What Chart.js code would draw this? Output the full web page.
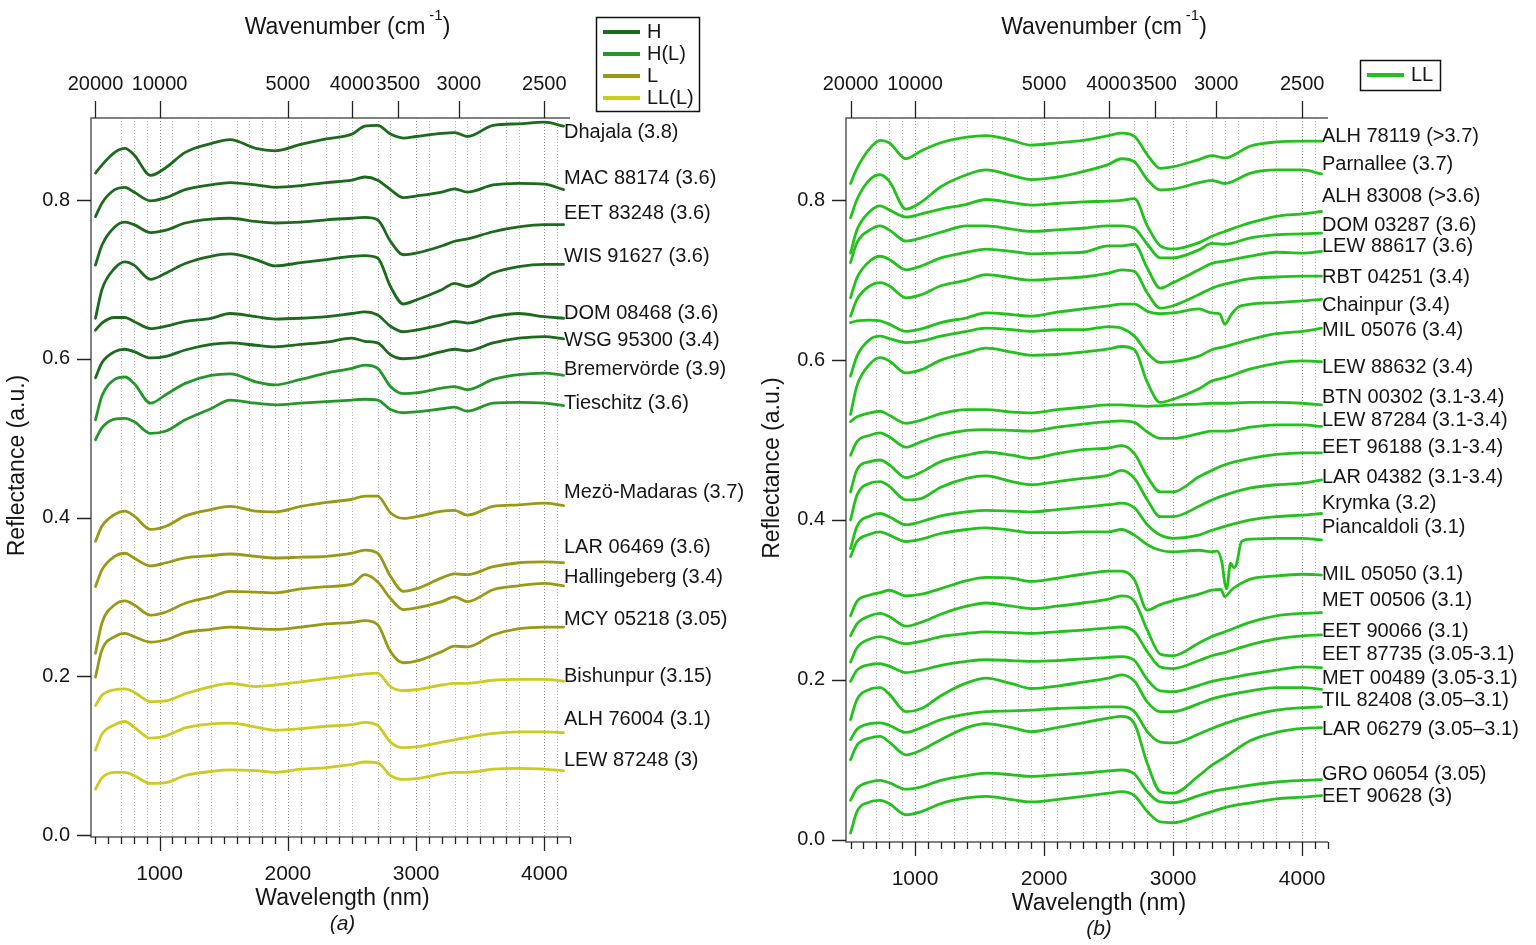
<!DOCTYPE html>
<html>
<head>
<meta charset="utf-8">
<title>Reflectance spectra</title>
<script src="https://cdn.jsdelivr.net/npm/chart.js@4.4.1/dist/chart.umd.min.js"></script>
<style>
  html, body { margin: 0; padding: 0; background: #fff; }
  #wrap { position: relative; width: 1536px; height: 945px; }
  #wrap canvas { position: absolute; left: 0; top: 0; }
</style>
</head>
<body>
<div id="wrap">
  <canvas id="panelA" width="1536" height="945"></canvas>
  <canvas id="panelB" width="1536" height="945"></canvas>
</div>
<script>
'use strict';

// wavelengths (nm) where every spectrum is sampled
const wavelength = [500, 550, 650, 730, 800, 930, 1050, 1200, 1400, 1550, 1750, 1900, 2100, 2300, 2500, 2600, 2700, 2800, 2900, 3000, 3200, 3300, 3400, 3600, 3800, 4000, 4150];

const wavelengthTicks = [1000, 2000, 3000, 4000];
const wavenumberTicks = [20000, 10000, 5000, 4000, 3500, 3000, 2500];
const reflectanceTicks = [0, 0.2, 0.4, 0.6, 0.8];
const gridWavelengths = [700, 800, 900, 1000, 1100, 1300, 1400, 1600, 1700, 1800, 1900, 2000, 2100, 2300, 2400, 2500, 2700, 2800, 3000, 3100, 3300, 3400, 3500, 3700, 3800, 4000, 4100];

// panel (a)
const dhajala = [0.834, 0.844, 0.860, 0.865, 0.857, 0.831, 0.841, 0.860, 0.871, 0.876, 0.865, 0.862, 0.870, 0.877, 0.883, 0.893, 0.894, 0.883, 0.878, 0.880, 0.884, 0.885, 0.880, 0.894, 0.896, 0.898, 0.893];
const mac88174 = [0.779, 0.796, 0.813, 0.816, 0.810, 0.799, 0.803, 0.813, 0.819, 0.822, 0.819, 0.816, 0.818, 0.822, 0.825, 0.829, 0.825, 0.813, 0.803, 0.805, 0.810, 0.814, 0.810, 0.819, 0.821, 0.820, 0.813];
const eet83248 = [0.718, 0.743, 0.766, 0.772, 0.769, 0.759, 0.762, 0.771, 0.776, 0.777, 0.773, 0.771, 0.772, 0.775, 0.777, 0.778, 0.775, 0.748, 0.731, 0.733, 0.742, 0.748, 0.751, 0.760, 0.766, 0.769, 0.769];
const wis91627 = [0.651, 0.687, 0.714, 0.722, 0.718, 0.700, 0.708, 0.720, 0.729, 0.732, 0.725, 0.717, 0.721, 0.725, 0.729, 0.730, 0.727, 0.691, 0.669, 0.674, 0.687, 0.695, 0.691, 0.708, 0.716, 0.719, 0.719];
const dom08468 = [0.636, 0.645, 0.652, 0.652, 0.647, 0.638, 0.641, 0.647, 0.651, 0.657, 0.653, 0.650, 0.651, 0.653, 0.657, 0.659, 0.655, 0.641, 0.634, 0.636, 0.643, 0.647, 0.645, 0.653, 0.657, 0.653, 0.651];
const wsg95300 = [0.576, 0.595, 0.609, 0.612, 0.609, 0.601, 0.603, 0.611, 0.618, 0.620, 0.617, 0.615, 0.618, 0.621, 0.626, 0.622, 0.620, 0.605, 0.600, 0.601, 0.609, 0.612, 0.610, 0.620, 0.626, 0.628, 0.625];
const bremervorde = [0.523, 0.553, 0.574, 0.577, 0.569, 0.544, 0.555, 0.569, 0.579, 0.581, 0.571, 0.567, 0.574, 0.582, 0.588, 0.592, 0.588, 0.565, 0.556, 0.557, 0.563, 0.565, 0.561, 0.574, 0.580, 0.582, 0.579];
const tieschitz = [0.498, 0.513, 0.524, 0.525, 0.521, 0.506, 0.509, 0.523, 0.537, 0.548, 0.544, 0.542, 0.544, 0.546, 0.548, 0.549, 0.548, 0.536, 0.532, 0.533, 0.537, 0.539, 0.534, 0.544, 0.545, 0.544, 0.541];
const mezoMadaras = [0.370, 0.389, 0.404, 0.408, 0.402, 0.385, 0.389, 0.402, 0.410, 0.414, 0.408, 0.407, 0.414, 0.419, 0.423, 0.427, 0.427, 0.406, 0.399, 0.401, 0.408, 0.409, 0.403, 0.414, 0.416, 0.418, 0.415];
const lar06469 = [0.313, 0.334, 0.351, 0.355, 0.349, 0.339, 0.343, 0.349, 0.352, 0.354, 0.351, 0.349, 0.350, 0.351, 0.355, 0.359, 0.355, 0.326, 0.307, 0.310, 0.324, 0.329, 0.328, 0.338, 0.343, 0.344, 0.343];
const hallingeberg = [0.229, 0.267, 0.290, 0.295, 0.290, 0.277, 0.281, 0.292, 0.300, 0.307, 0.306, 0.305, 0.310, 0.313, 0.316, 0.328, 0.319, 0.298, 0.284, 0.286, 0.294, 0.300, 0.294, 0.309, 0.314, 0.317, 0.314];
const mcy05218 = [0.199, 0.233, 0.250, 0.254, 0.250, 0.243, 0.246, 0.255, 0.259, 0.262, 0.260, 0.259, 0.262, 0.266, 0.268, 0.270, 0.265, 0.231, 0.217, 0.219, 0.231, 0.238, 0.237, 0.252, 0.260, 0.262, 0.262];
const bishunpur = [0.163, 0.176, 0.183, 0.184, 0.180, 0.168, 0.169, 0.178, 0.187, 0.191, 0.187, 0.189, 0.193, 0.197, 0.201, 0.203, 0.204, 0.187, 0.182, 0.183, 0.189, 0.191, 0.191, 0.195, 0.196, 0.196, 0.194];
const alh76004 = [0.107, 0.127, 0.139, 0.143, 0.136, 0.122, 0.125, 0.135, 0.140, 0.141, 0.136, 0.132, 0.134, 0.137, 0.139, 0.142, 0.138, 0.117, 0.110, 0.111, 0.117, 0.120, 0.123, 0.128, 0.130, 0.130, 0.129];
const lew87248 = [0.058, 0.072, 0.079, 0.079, 0.075, 0.065, 0.066, 0.075, 0.080, 0.082, 0.081, 0.079, 0.083, 0.085, 0.089, 0.092, 0.091, 0.075, 0.070, 0.071, 0.077, 0.079, 0.079, 0.083, 0.084, 0.083, 0.081];

const namesA = ['Dhajala (3.8)', 'MAC 88174 (3.6)', 'EET 83248 (3.6)', 'WIS 91627 (3.6)', 'DOM 08468 (3.6)', 'WSG 95300 (3.4)', 'Bremervörde (3.9)', 'Tieschitz (3.6)', 'Mezö-Madaras (3.7)', 'LAR 06469 (3.6)', 'Hallingeberg (3.4)', 'MCY 05218 (3.05)', 'Bishunpur (3.15)', 'ALH 76004 (3.1)', 'LEW 87248 (3)'];
const typesA = ['H', 'H', 'H', 'H', 'H', 'H', 'H(L)', 'H(L)', 'L', 'L', 'L', 'L', 'LL(L)', 'LL(L)', 'LL(L)'];
const spectraA = [dhajala, mac88174, eet83248, wis91627, dom08468, wsg95300, bremervorde, tieschitz, mezoMadaras, lar06469, hallingeberg, mcy05218, bishunpur, alh76004, lew87248];

// panel (b)
const alh78119 = [0.821, 0.840, 0.865, 0.875, 0.872, 0.852, 0.862, 0.872, 0.879, 0.881, 0.875, 0.869, 0.872, 0.875, 0.881, 0.884, 0.880, 0.857, 0.840, 0.842, 0.851, 0.856, 0.853, 0.868, 0.873, 0.874, 0.874];
const parnallee = [0.778, 0.801, 0.826, 0.832, 0.824, 0.789, 0.798, 0.817, 0.832, 0.838, 0.831, 0.826, 0.829, 0.836, 0.845, 0.852, 0.848, 0.826, 0.813, 0.814, 0.822, 0.825, 0.821, 0.834, 0.838, 0.838, 0.833];
const alh83008 = [0.734, 0.763, 0.786, 0.793, 0.788, 0.779, 0.783, 0.789, 0.795, 0.801, 0.797, 0.794, 0.796, 0.798, 0.799, 0.800, 0.802, 0.768, 0.743, 0.739, 0.747, 0.755, 0.761, 0.772, 0.780, 0.783, 0.786];
const dom03287 = [0.722, 0.747, 0.763, 0.768, 0.763, 0.749, 0.753, 0.760, 0.768, 0.768, 0.764, 0.761, 0.763, 0.765, 0.768, 0.768, 0.765, 0.745, 0.728, 0.728, 0.738, 0.746, 0.745, 0.753, 0.757, 0.758, 0.759];
const lew88617 = [0.678, 0.703, 0.724, 0.730, 0.726, 0.713, 0.718, 0.728, 0.735, 0.739, 0.736, 0.733, 0.734, 0.735, 0.743, 0.743, 0.745, 0.715, 0.690, 0.697, 0.713, 0.721, 0.724, 0.730, 0.735, 0.734, 0.736];
const rbt04251 = [0.655, 0.676, 0.693, 0.697, 0.693, 0.678, 0.682, 0.693, 0.700, 0.707, 0.703, 0.700, 0.702, 0.704, 0.709, 0.713, 0.711, 0.684, 0.665, 0.668, 0.682, 0.690, 0.695, 0.702, 0.704, 0.705, 0.705];
const chainpur = [0.647, 0.649, 0.650, 0.649, 0.645, 0.636, 0.639, 0.647, 0.653, 0.659, 0.657, 0.655, 0.660, 0.664, 0.668, 0.670, 0.670, 0.661, 0.658, 0.659, 0.664, 0.659, 0.645, 0.670, 0.672, 0.674, 0.676];
const mil05076 = [0.580, 0.605, 0.626, 0.630, 0.627, 0.622, 0.624, 0.630, 0.636, 0.640, 0.638, 0.636, 0.638, 0.638, 0.642, 0.640, 0.630, 0.609, 0.597, 0.598, 0.605, 0.613, 0.617, 0.626, 0.633, 0.636, 0.640];
const lew88632 = [0.532, 0.568, 0.595, 0.603, 0.599, 0.584, 0.588, 0.600, 0.609, 0.615, 0.610, 0.606, 0.607, 0.610, 0.614, 0.617, 0.613, 0.572, 0.547, 0.551, 0.564, 0.574, 0.578, 0.589, 0.596, 0.599, 0.598];
const btn00302 = [0.523, 0.529, 0.534, 0.536, 0.531, 0.521, 0.525, 0.533, 0.538, 0.538, 0.535, 0.534, 0.538, 0.541, 0.544, 0.544, 0.543, 0.542, 0.543, 0.544, 0.545, 0.546, 0.546, 0.547, 0.547, 0.546, 0.544];
const lew87284 = [0.481, 0.498, 0.506, 0.509, 0.504, 0.491, 0.498, 0.506, 0.512, 0.513, 0.512, 0.511, 0.516, 0.520, 0.523, 0.524, 0.522, 0.510, 0.502, 0.502, 0.508, 0.511, 0.511, 0.516, 0.519, 0.519, 0.517];
const eet96188 = [0.435, 0.463, 0.473, 0.475, 0.469, 0.453, 0.460, 0.473, 0.481, 0.485, 0.481, 0.477, 0.483, 0.488, 0.490, 0.493, 0.483, 0.454, 0.435, 0.435, 0.454, 0.462, 0.469, 0.477, 0.482, 0.484, 0.484];
const lar04382 = [0.400, 0.431, 0.446, 0.448, 0.442, 0.425, 0.427, 0.441, 0.452, 0.455, 0.448, 0.444, 0.448, 0.452, 0.456, 0.462, 0.452, 0.425, 0.404, 0.404, 0.417, 0.425, 0.431, 0.440, 0.444, 0.446, 0.450];
const krymka = [0.364, 0.392, 0.405, 0.408, 0.404, 0.394, 0.398, 0.405, 0.410, 0.412, 0.411, 0.410, 0.413, 0.416, 0.419, 0.421, 0.415, 0.394, 0.381, 0.377, 0.381, 0.387, 0.392, 0.400, 0.404, 0.406, 0.408];
const piancaldoli = [0.354, 0.373, 0.382, 0.385, 0.381, 0.373, 0.376, 0.383, 0.388, 0.390, 0.387, 0.384, 0.384, 0.385, 0.385, 0.388, 0.381, 0.369, 0.362, 0.360, 0.362, 0.360, 0.321, 0.376, 0.377, 0.377, 0.375];
const mil05050 = [0.280, 0.298, 0.306, 0.309, 0.312, 0.305, 0.307, 0.314, 0.324, 0.328, 0.327, 0.323, 0.327, 0.332, 0.336, 0.336, 0.325, 0.287, 0.294, 0.299, 0.307, 0.312, 0.304, 0.326, 0.330, 0.332, 0.331];
const met00506 = [0.255, 0.270, 0.280, 0.283, 0.279, 0.267, 0.272, 0.282, 0.292, 0.296, 0.292, 0.289, 0.292, 0.296, 0.301, 0.305, 0.298, 0.262, 0.232, 0.230, 0.246, 0.254, 0.260, 0.272, 0.280, 0.283, 0.284];
const eet90066 = [0.222, 0.240, 0.251, 0.254, 0.251, 0.245, 0.248, 0.254, 0.258, 0.260, 0.259, 0.258, 0.260, 0.262, 0.265, 0.266, 0.260, 0.235, 0.216, 0.214, 0.224, 0.230, 0.234, 0.244, 0.251, 0.255, 0.256];
const eet87735 = [0.198, 0.212, 0.219, 0.220, 0.217, 0.209, 0.212, 0.218, 0.223, 0.225, 0.224, 0.223, 0.224, 0.226, 0.228, 0.229, 0.224, 0.200, 0.186, 0.185, 0.193, 0.198, 0.201, 0.207, 0.212, 0.216, 0.215];
const met00489 = [0.150, 0.175, 0.188, 0.190, 0.182, 0.160, 0.164, 0.180, 0.196, 0.202, 0.195, 0.189, 0.192, 0.197, 0.202, 0.206, 0.198, 0.172, 0.160, 0.160, 0.170, 0.176, 0.180, 0.186, 0.190, 0.190, 0.188];
const til82408 = [0.125, 0.138, 0.145, 0.146, 0.143, 0.134, 0.140, 0.150, 0.157, 0.160, 0.161, 0.162, 0.164, 0.165, 0.166, 0.166, 0.160, 0.135, 0.122, 0.121, 0.132, 0.139, 0.145, 0.155, 0.162, 0.165, 0.166];
const lar06279 = [0.100, 0.118, 0.127, 0.129, 0.122, 0.106, 0.112, 0.125, 0.140, 0.145, 0.140, 0.135, 0.140, 0.146, 0.152, 0.154, 0.145, 0.095, 0.060, 0.058, 0.080, 0.093, 0.103, 0.124, 0.134, 0.139, 0.140];
const gro06054 = [0.049, 0.064, 0.072, 0.074, 0.071, 0.063, 0.066, 0.074, 0.080, 0.083, 0.081, 0.079, 0.081, 0.083, 0.086, 0.087, 0.082, 0.060, 0.047, 0.046, 0.055, 0.060, 0.063, 0.068, 0.072, 0.074, 0.075];
const eet90628 = [0.008, 0.035, 0.047, 0.049, 0.045, 0.031, 0.035, 0.045, 0.052, 0.054, 0.050, 0.047, 0.050, 0.054, 0.058, 0.060, 0.055, 0.035, 0.022, 0.021, 0.030, 0.035, 0.040, 0.046, 0.051, 0.053, 0.055];

// narrow 3.4 µm features sampled more finely
const chainpurDipWl = [3360, 3450, 3500];
const chainpurDip = [0.658, 0.657, 0.666];
const piancaldoliDipWl = [3340, 3380, 3415, 3445, 3470, 3490, 3530];
const piancaldoliDip = [0.361, 0.345, 0.314, 0.346, 0.340, 0.344, 0.373];
const mil05050DipWl = [3370, 3450, 3500];
const mil05050Dip = [0.313, 0.312, 0.318];

const namesB = ['ALH 78119 (>3.7)', 'Parnallee (3.7)', 'ALH 83008 (>3.6)', 'DOM 03287 (3.6)', 'LEW 88617 (3.6)', 'RBT 04251 (3.4)', 'Chainpur (3.4)', 'MIL 05076 (3.4)', 'LEW 88632 (3.4)', 'BTN 00302 (3.1-3.4)', 'LEW 87284 (3.1-3.4)', 'EET 96188 (3.1-3.4)', 'LAR 04382 (3.1-3.4)', 'Krymka (3.2)', 'Piancaldoli (3.1)', 'MIL 05050 (3.1)', 'MET 00506 (3.1)', 'EET 90066 (3.1)', 'EET 87735 (3.05-3.1)', 'MET 00489 (3.05-3.1)', 'TIL 82408 (3.05–3.1)', 'LAR 06279 (3.05–3.1)', 'GRO 06054 (3.05)', 'EET 90628 (3)'];
const spectraB = [alh78119, parnallee, alh83008, dom03287, lew88617, rbt04251, chainpur, mil05076, lew88632, btn00302, lew87284, eet96188, lar04382, krymka, piancaldoli, mil05050, met00506, eet90066, eet87735, met00489, til82408, lar06279, gro06054, eet90628];

const typeColors = { 'H': '#1c6a1c', 'H(L)': '#24962a', 'L': '#999916', 'LL(L)': '#cbcb20', 'LL': '#22c11c' };

// label offsets (px) from the end of each curve
const labelDyA = [6, -11, -11, -8, -5, 2, -6, -2, -13, -15, -8, -8, -5, -13, -10];
const labelDyB = [-5, -9, -15, -8, -5, 1, 6, 2, 6, -7, -6, -5, -2, -10, -12, -1, -12, -3, -13, -11, -6, 2, -5, 1];

const fontFamily = '"Liberation Sans", Arial, Helvetica, sans-serif';
const textColor = '#161616';

function toPoints(values, extraWl, extraValues) {
    let pts = wavelength.map((w, i) => ({ x: w, y: values[i] }));
    if (extraWl) {
        extraWl.forEach((w, i) => pts.push({ x: w, y: extraValues[i] }));
        pts.sort((a, b) => a.x - b.x);
    }
    return pts;
}

function drawWavenumberTitle(ctx, cx) {
    let main = 'Wavenumber (cm';
    let sup = '-1';
    let big = '23px ' + fontFamily;
    let small = '15px ' + fontFamily;
    ctx.font = big;
    let w1 = ctx.measureText(main).width;
    let w3 = ctx.measureText(')').width;
    ctx.font = small;
    let w2 = ctx.measureText(sup).width;
    let left = cx - (w1 + 4 + w2 + w3) / 2;
    ctx.textAlign = 'left';
    ctx.textBaseline = 'alphabetic';
    ctx.font = big;
    ctx.fillText(main, left, 34);
    ctx.font = small;
    ctx.fillText(sup, left + w1 + 4, 20);
    ctx.font = big;
    ctx.fillText(')', left + w1 + 4 + w2, 34);
}

// grid, ticks, axis lines, titles, curve labels and legend box
const panelDecor = {
    id: 'panelDecor',
    beforeDatasetsDraw(chart, args, opts) {
        let ctx = chart.ctx;
        let a = chart.chartArea;
        let x = chart.scales.x;
        ctx.save();
        ctx.lineWidth = 1;
        ctx.setLineDash([1, 2]);
        gridWavelengths.forEach(v => {
            let px = Math.round(x.getPixelForValue(v)) + 0.5;
            ctx.strokeStyle = wavelengthTicks.includes(v) ? '#8a8a8a' : '#b4b4b4';
            ctx.beginPath();
            ctx.moveTo(px, a.top);
            ctx.lineTo(px, a.bottom);
            ctx.stroke();
        });
        ctx.restore();
    },
    afterDraw(chart, args, opts) {
        let ctx = chart.ctx;
        let a = chart.chartArea;
        let x = chart.scales.x;
        let y = chart.scales.y;
        ctx.save();

        // frame: top, left, bottom
        ctx.strokeStyle = '#5a5a5a';
        ctx.lineWidth = 1.5;
        ctx.beginPath();
        ctx.moveTo(a.right, a.top);
        ctx.lineTo(a.left, a.top);
        ctx.lineTo(a.left, a.bottom);
        ctx.lineTo(a.right, a.bottom);
        ctx.stroke();

        ctx.strokeStyle = '#222';
        ctx.lineWidth = 1.3;
        ctx.beginPath();
        for (let v = 500; v <= 4200; v += 100) {
            let px = Math.round(x.getPixelForValue(v)) + 0.5;
            ctx.moveTo(px, a.bottom);
            ctx.lineTo(px, a.bottom + (v % 1000 === 0 ? 14 : 7));
        }
        wavenumberTicks.forEach(k => {
            let px = Math.round(x.getPixelForValue(1e7 / k)) + 0.5;
            ctx.moveTo(px, a.top);
            ctx.lineTo(px, a.top - 17);
        });
        reflectanceTicks.forEach(r => {
            let py = Math.round(y.getPixelForValue(r)) + 0.5;
            ctx.moveTo(a.left, py);
            ctx.lineTo(a.left - 14, py);
        });
        ctx.stroke();

        // axis titles
        ctx.fillStyle = textColor;
        let cx = (a.left + a.right) / 2;
        drawWavenumberTitle(ctx, cx + 17);
        ctx.textAlign = 'center';
        ctx.textBaseline = 'middle';
        ctx.font = '23px ' + fontFamily;
        ctx.fillText('Wavelength (nm)', cx + 12, a.bottom + 62);
        ctx.font = 'italic 21px ' + fontFamily;
        ctx.fillText(opts.letter, cx + 12, a.bottom + 87);
        ctx.save();
        ctx.translate(a.left - 73, (a.top + a.bottom) / 2 - 12);
        ctx.rotate(-Math.PI / 2);
        ctx.font = '23px ' + fontFamily;
        ctx.fillText('Reflectance (a.u.)', 0, 0);
        ctx.restore();

        // sample names at the end of each curve
        ctx.font = '20px ' + fontFamily;
        ctx.textAlign = 'left';
        ctx.textBaseline = 'middle';
        opts.names.forEach((name, i) => {
            let vals = opts.spectra[i];
            let py = y.getPixelForValue(vals[vals.length - 1]) + opts.labelDy[i];
            ctx.fillText(name, a.right - 6, py);
        });

        // legend box
        let lg = opts.legend;
        ctx.strokeStyle = '#111';
        ctx.lineWidth = 1.5;
        ctx.strokeRect(lg.x + 0.5, lg.y + 0.5, lg.w, lg.h);
        lg.items.forEach((t, i) => {
            let ly = lg.y + 15 + i * 22;
            ctx.strokeStyle = typeColors[t];
            ctx.lineWidth = 4;
            ctx.beginPath();
            ctx.moveTo(lg.x + 7, ly);
            ctx.lineTo(lg.x + 44, ly);
            ctx.stroke();
            ctx.fillStyle = textColor;
            ctx.fillText(t, lg.x + 51, ly);
        });
        ctx.restore();
    }
};

function makeChart(canvasId, cfg) {
    let datasets = cfg.spectra.map((vals, i) => ({
        label: cfg.names[i],
        data: cfg.points[i],
        borderColor: typeColors[cfg.types[i]],
        borderWidth: 2.8,
        pointRadius: 0,
        fill: false,
        cubicInterpolationMode: 'monotone',
        borderJoinStyle: 'round',
        borderCapStyle: 'round'
    }));
    let tickFont = { family: fontFamily, size: 20 };
    let ctx = document.getElementById(canvasId).getContext('2d');
    return new Chart(ctx, {
        type: 'line',
        data: { datasets: datasets },
        plugins: [panelDecor],
        options: {
            responsive: false,
            animation: false,
            events: [],
            layout: { padding: { left: cfg.padLeft, right: cfg.padRight, top: 0, bottom: 0 } },
            plugins: {
                legend: { display: false },
                tooltip: { enabled: false },
                panelDecor: {
                    letter: cfg.letter,
                    names: cfg.names,
                    spectra: cfg.spectra,
                    labelDy: cfg.labelDy,
                    legend: cfg.legend
                }
            },
            scales: {
                x: {
                    type: 'linear',
                    position: 'bottom',
                    min: 465,
                    max: 4200,
                    afterBuildTicks: s => { s.ticks = wavelengthTicks.map(v => ({ value: v })); },
                    afterFit: s => { s.height = cfg.bottomHeight; },
                    grid: { display: false, drawTicks: false },
                    border: { display: false },
                    ticks: {
                        autoSkip: false, maxRotation: 0, minRotation: 0, padding: 25,
                        color: textColor, font: { family: fontFamily, size: 21 },
                        callback: v => String(v)
                    }
                },
                xTop: {
                    type: 'linear',
                    axis: 'x',
                    position: 'top',
                    min: 465,
                    max: 4200,
                    afterBuildTicks: s => { s.ticks = wavenumberTicks.map(k => ({ value: 1e7 / k })); },
                    afterFit: s => { s.height = 118; },
                    grid: { display: false, drawTicks: false },
                    border: { display: false },
                    ticks: {
                        autoSkip: false, maxRotation: 0, minRotation: 0, padding: 22,
                        color: textColor, font: tickFont,
                        callback: v => String(Math.round(1e7 / v))
                    }
                },
                y: {
                    type: 'linear',
                    min: cfg.yMin,
                    max: cfg.yMax,
                    afterBuildTicks: s => { s.ticks = reflectanceTicks.map(v => ({ value: v })); },
                    afterFit: s => { s.width = 91; },
                    grid: { display: false, drawTicks: false },
                    border: { display: false },
                    ticks: {
                        padding: 21, color: textColor, font: tickFont,
                        callback: v => v.toFixed(1)
                    }
                }
            }
        }
    });
}

makeChart('panelA', {
    letter: '(a)',
    names: namesA,
    types: typesA,
    spectra: spectraA,
    points: spectraA.map(v => toPoints(v)),
    labelDy: labelDyA,
    padLeft: 0,
    padRight: 1536 - 570,
    bottomHeight: 945 - 837,
    yMin: -0.0025,
    yMax: 0.9033,
    legend: { x: 596, y: 17, w: 103, h: 94, items: ['H', 'H(L)', 'L', 'LL(L)'] }
});

let pointsB = spectraB.map(v => toPoints(v));
pointsB[namesB.indexOf('Chainpur (3.4)')] = toPoints(chainpur, chainpurDipWl, chainpurDip);
pointsB[namesB.indexOf('Piancaldoli (3.1)')] = toPoints(piancaldoli, piancaldoliDipWl, piancaldoliDip);
pointsB[namesB.indexOf('MIL 05050 (3.1)')] = toPoints(mil05050, mil05050DipWl, mil05050Dip);

makeChart('panelB', {
    letter: '(b)',
    names: namesB,
    types: namesB.map(() => 'LL'),
    spectra: spectraB,
    points: pointsB,
    labelDy: labelDyB,
    padLeft: 846 - 91,
    padRight: 1536 - 1328,
    bottomHeight: 945 - 842,
    yMin: -0.0031,
    yMax: 0.903,
    legend: { x: 1360, y: 60, w: 80, h: 30, items: ['LL'] }
});
</script>
</body>
</html>
